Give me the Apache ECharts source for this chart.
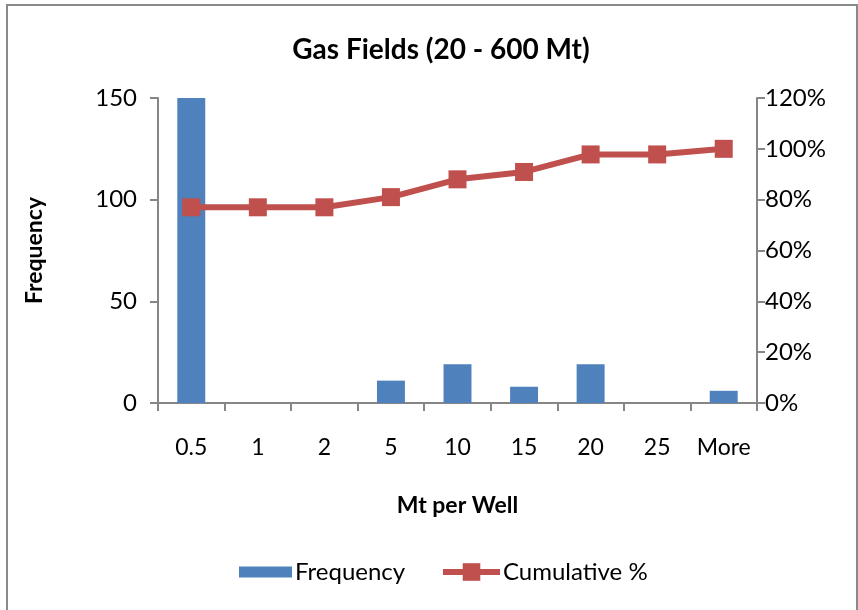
<!DOCTYPE html>
<html><head><meta charset="utf-8">
<script src="https://cdn.jsdelivr.net/npm/echarts@6/dist/echarts.min.js"></script>
<style>html,body{margin:0;padding:0;background:#fff;}#c{width:858px;height:610px;}</style>
</head><body><div id="c"></div>
<script>
const categories = ['0.5','1','2','5','10','15','20','25','More'];
const frequency = [211, 0, 0, 11, 19, 8, 19, 0, 6];
const cumulativePct = [77.0, 77.0, 77.0, 81.0, 88.0, 90.9, 97.8, 97.8, 100];
const leftTicks = {min: 0, max: 150, interval: 50};
const rightTicks = {min: 0, max: 120, interval: 20};

const FONT = 'Lato, "Open Sans", sans-serif';
const chart = echarts.init(document.getElementById('c'), null, {renderer: 'canvas'});
chart.setOption({
  animation: false,
  backgroundColor: '#fff',
  textStyle: {fontFamily: FONT},
  title: {
    text: 'Gas Fields (20 - 600 Mt)', left: 436, top: 31, textAlign: 'center',
    textStyle: {fontFamily: FONT, fontWeight: 'bold', fontSize: 28, color: '#000'}
  },
  graphic: [{
    type: 'rect', shape: {x: 7, y: 5, width: 850, height: 620},
    style: {fill: 'none', stroke: '#898989', lineWidth: 2}, silent: true, z: -1
  }],
  legend: [{
    left: 239, top: 560, padding: 0,
    itemWidth: 53, itemHeight: 11,
    textStyle: {fontFamily: FONT, fontSize: 24, color: '#000', padding: [0, 0, 0, -2]},
    data: [{name: 'Frequency', icon: 'rect'}]
  }, {
    left: 440, top: 560, padding: 0,
    itemWidth: 57, itemHeight: 22,
    lineStyle: {width: 6, color: '#C0504D'},
    textStyle: {fontFamily: FONT, fontSize: 24, color: '#000', padding: [0, 0, 0, -2]},
    data: [{name: 'Cumulative %'}]
  }],
  grid: {left: 158, right: 101, top: 98, bottom: 207, containLabel: false},
  xAxis: {
    type: 'category', data: categories,
    name: 'Mt per Well', nameLocation: 'middle', nameGap: 91,
    nameTextStyle: {fontFamily: FONT, fontWeight: 'bold', fontSize: 23, color: '#000'},
    axisLine: {lineStyle: {color: '#868686', width: 2}},
    axisTick: {show: true, interval: 0, length: 8, inside: false, lineStyle: {color: '#868686', width: 2}},
    axisLabel: {interval: 0, fontFamily: FONT, fontSize: 23, color: '#000', margin: 33}
  },
  yAxis: [{
    type: 'value', min: leftTicks.min, max: leftTicks.max, interval: leftTicks.interval,
    name: 'Frequency', nameLocation: 'middle', nameGap: 112, nameRotate: 90,
    nameTextStyle: {fontFamily: FONT, fontWeight: 'bold', fontSize: 23, color: '#000'},
    axisLine: {show: true, lineStyle: {color: '#868686', width: 2}},
    axisTick: {show: true, length: 8, lineStyle: {color: '#868686', width: 2}},
    splitLine: {show: false},
    axisLabel: {fontFamily: FONT, fontSize: 24, color: '#000', margin: 21}
  }, {
    type: 'value', min: rightTicks.min, max: rightTicks.max, interval: rightTicks.interval,
    position: 'right',
    axisLine: {show: true, lineStyle: {color: '#868686', width: 2}},
    axisTick: {show: true, length: 8, lineStyle: {color: '#868686', width: 2}},
    splitLine: {show: false},
    axisLabel: {fontFamily: FONT, fontSize: 24, color: '#000', margin: 8, formatter: '{value}%'}
  }],
  series: [{
    name: 'Frequency', type: 'bar', yAxisIndex: 0, data: frequency,
    barWidth: '42%', clip: true,
    itemStyle: {color: '#4F81BD'}
  }, {
    name: 'Cumulative %', type: 'line', yAxisIndex: 1, data: cumulativePct,
    symbol: 'rect', symbolSize: 18,
    lineStyle: {color: '#C0504D', width: 6},
    itemStyle: {color: '#C0504D'}
  }]
});
</script></body></html>
